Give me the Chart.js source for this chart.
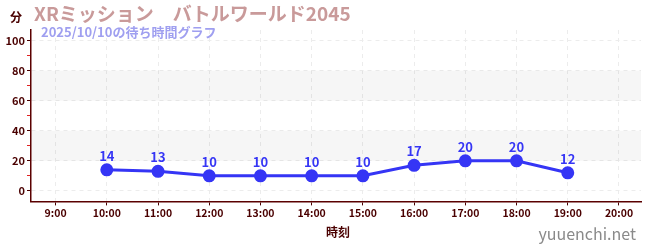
<!DOCTYPE html>
<html>
<head>
<meta charset="utf-8">
<script src="https://cdn.jsdelivr.net/npm/chart.js@4"></script>
<style>
html,body{margin:0;padding:0;background:#fff;}
#wrap{position:relative;width:650px;height:250px;}
</style>
</head>
<body>
<div id="wrap"><canvas id="c" width="650" height="250"></canvas></div>
<script>
const chartTitle = 'XRミッション　バトルワールド2045';
const chartSubtitle = '2025/10/10の待ち時間グラフ';
const yAxisTitle = '分';
const xAxisTitle = '時刻';
const watermark = 'yuuenchi.net';
const timeLabels = ['9:00','10:00','11:00','12:00','13:00','14:00','15:00','16:00','17:00','18:00','19:00','20:00'];
const waitMinutes = [null,14,13,10,10,10,10,17,20,20,12,null];
const yTicks = [0,10,20,30,40,50,60,70,80,90,100];
const bands = [[20,40],[60,80]];

const FONT = '"Noto Sans CJK JP", "Noto Sans", sans-serif';
const hourOf = s => parseInt(s.split(':')[0], 10);
const points = timeLabels.map((t, i) => ({x: hourOf(t), y: waitMinutes[i]}));

const decor = {
  id: 'decor',
  beforeDatasetsDraw(chart) {
    const {ctx, chartArea: a, scales: {y}} = chart;
    ctx.save();
    ctx.fillStyle = 'rgba(0,0,0,0.035)';
    bands.forEach(([lo, hi]) => {
      const y1 = y.getPixelForValue(hi), y2 = y.getPixelForValue(lo);
      ctx.fillRect(a.left, y1, a.right - a.left, y2 - y1);
    });
    ctx.restore();
  },
  afterDatasetsDraw(chart) {
    const {ctx} = chart;
    const meta = chart.getDatasetMeta(0);
    ctx.save();
    ctx.font = 'bold 13px ' + FONT;
    ctx.fillStyle = '#3636f5';
    ctx.textAlign = 'center';
    ctx.textBaseline = 'middle';
    meta.data.forEach((pt, i) => {
      const v = points[i].y;
      if (v === null || pt.skip) return;
      ctx.fillText(String(v), pt.x, pt.y - 14);
    });
    ctx.restore();
  },
  afterDraw(chart) {
    const {ctx, chartArea: a} = chart;
    ctx.save();
    ctx.textBaseline = 'alphabetic';
    ctx.textAlign = 'left';
    ctx.font = 'bold 19px ' + FONT;
    ctx.fillStyle = '#c99a9a';
    ctx.fillText(chartTitle, 34, 21);
    ctx.font = 'bold 13px ' + FONT;
    ctx.fillStyle = '#9f9ff0';
    ctx.fillText(chartSubtitle, 41, 37);
    ctx.font = 'bold 12px ' + FONT;
    ctx.fillStyle = '#4a0000';
    ctx.fillText(yAxisTitle, 10, 22);
    ctx.textAlign = 'center';
    ctx.fillText(xAxisTitle, (a.left + a.right) / 2 + 2, 237);
    ctx.textAlign = 'right';
    ctx.font = '16px ' + FONT;
    ctx.fillStyle = '#8a8a8a';
    ctx.fillText(watermark, 636, 240);
    ctx.restore();
  }
};

new Chart(document.getElementById('c'), {
  type: 'line',
  plugins: [decor],
  data: {
    datasets: [{
      data: points,
      borderColor: '#3535f5',
      backgroundColor: '#3535f5',
      borderWidth: 3,
      pointRadius: 5,
      pointHoverRadius: 5,
      pointBackgroundColor: '#3535f5',
      pointBorderColor: '#3535f5',
      tension: 0,
      fill: false
    }]
  },
  options: {
    responsive: false,
    animation: false,
    events: [],
    layout: {padding: {left: 0, right: 9, top: 30, bottom: 30}},
    plugins: {legend: {display: false}, tooltip: {enabled: false}, title: {display: false}},
    scales: {
      x: {
        type: 'linear',
        min: 8.52,
        max: 20.43,
        afterBuildTicks(s) {
          s.ticks = timeLabels.map(t => ({value: hourOf(t)}));
        },
        ticks: {
          autoSkip: false,
          maxRotation: 0,
          color: '#4a0000',
          font: {family: FONT, size: 10.5, weight: 'bold'},
          padding: 1,
          callback: v => timeLabels[timeLabels.findIndex(t => hourOf(t) === v)]
        },
        grid: {
          color: '#ececec',
          lineWidth: 1,
          tickColor: '#4a0000',
          tickLength: 4,
          drawTicks: true
        },
        border: {display: true, color: '#5a0000', width: 1.5, dash: [4, 4]}
      },
      y: {
        min: -7,
        max: 107,
        afterBuildTicks(s) {
          s.ticks = yTicks.map(v => ({value: v}));
        },
        afterFit(s) { s.width = 31; },
        ticks: {
          color: '#4a0000',
          font: {family: FONT, size: 11, weight: 'bold'},
          padding: 2,
          callback: v => (v % 20 === 0 ? String(v) : '')
        },
        grid: {
          color: c => (c.tick && c.tick.value % 20 === 0 ? '#ececec' : 'rgba(0,0,0,0)'),
          tickColor: c => (c.tick && c.tick.value % 20 === 0 ? '#4a0000' : '#e02020'),
          tickLength: 4,
          lineWidth: 1
        },
        border: {display: true, color: '#5a0000', width: 1.5, dash: [4, 4]}
      }
    }
  }
});
</script>
</body>
</html>
